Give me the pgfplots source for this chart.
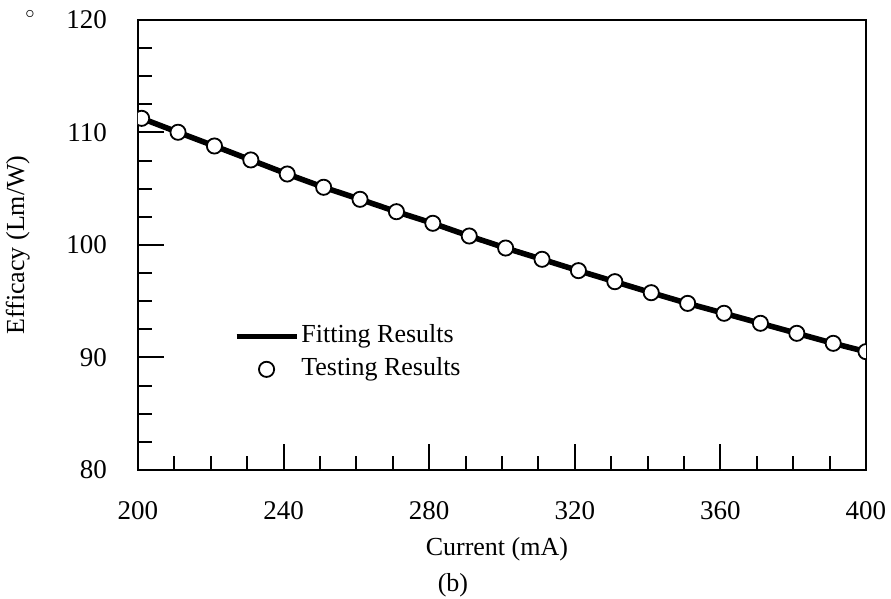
\documentclass[border=0pt]{standalone}
\usepackage{fontspec}
\setmainfont{Liberation Serif}
\usepackage{pgfplots}
\pgfplotsset{compat=1.18}
\begin{document}
\fontsize{13pt}{15pt}\selectfont
\begin{tikzpicture}
\useasboundingbox (-69pt,-64.5pt) rectangle (376.5pt,235pt);
\begin{axis}[
  scale only axis, width=364pt, height=225pt,
  xmin=200, xmax=400, ymin=80, ymax=120,
  xtick={200,240,...,400}, ytick={80,90,...,120},
  minor x tick num=3, minor y tick num=3,
  tick align=inside, tick pos=left,
  major tick length=13pt, minor tick length=7pt,
  axis line style={line width=1pt},
  every tick/.style={line width=1pt, black},
  /pgf/number format/assume math mode=true,
  /pgf/number format/1000 sep={},
  ticklabel style={font=\fontsize{13.5pt}{15pt}\selectfont},
  xticklabel style={yshift=-11pt},
  yticklabel style={xshift=-11pt},
  xlabel={Current (mA)},
  ylabel={Efficacy (Lm/W)},
  xlabel style={at={(axis description cs:0.493,-0.1756)}, anchor=center, font=\fontsize{13pt}{15pt}\selectfont},
  ylabel style={at={(axis description cs:-0.165,0.5)}, anchor=center, rotate=0, font=\fontsize{13pt}{15pt}\selectfont},
  clip marker paths=true,
  legend style={at={(axis description cs:0.131,0.329)}, anchor=north west,
    draw=none, fill=none, inner sep=0pt, row sep=2.5pt, column sep=0pt,
    font=\fontsize{13pt}{15pt}\selectfont,
    nodes={inner sep=1pt, text height=9pt, text depth=3pt}},
  legend cell align=left,
  legend image code/.code={\draw[mark repeat=2,mark phase=2,#1] plot coordinates {(0pt,0pt) (15pt,0pt) (30pt,0pt)};},
]
\addplot[black, line width=2.8pt, no marks] coordinates {
(200,111.35) (201,111.26) (211,110.02) (221,108.80) (231,107.56) (241,106.31)
(251,105.13) (261,104.06) (271,102.96) (281,101.93) (291,100.80) (301,99.73)
(311,98.73) (321,97.72) (331,96.74) (341,95.76) (351,94.81) (361,93.93)
(371,93.04) (381,92.15) (391,91.26) (400,90.52)
};
\addlegendentry{Fitting Results}
\addplot[only marks, mark=*, mark size=3.8pt, mark options={fill=white, draw=black, line width=0.9pt}] coordinates {
(201,111.26) (211,110.02) (221,108.80) (231,107.56) (241,106.31)
(251,105.13) (261,104.06) (271,102.96) (281,101.93) (291,100.80) (301,99.73)
(311,98.73) (321,97.72) (331,96.74) (341,95.76) (351,94.81) (361,93.93)
(371,93.04) (381,92.15) (391,91.26) (400,90.52)
};
\addlegendentry{Testing Results}
\end{axis}
\node[font=\fontsize{13pt}{15pt}\selectfont] at (157.5pt,-57.5pt) {(b)};
\node[font=\fontsize{9pt}{10pt}\selectfont] at (-54pt,228pt) {$\circ$};
\end{tikzpicture}
\end{document}
